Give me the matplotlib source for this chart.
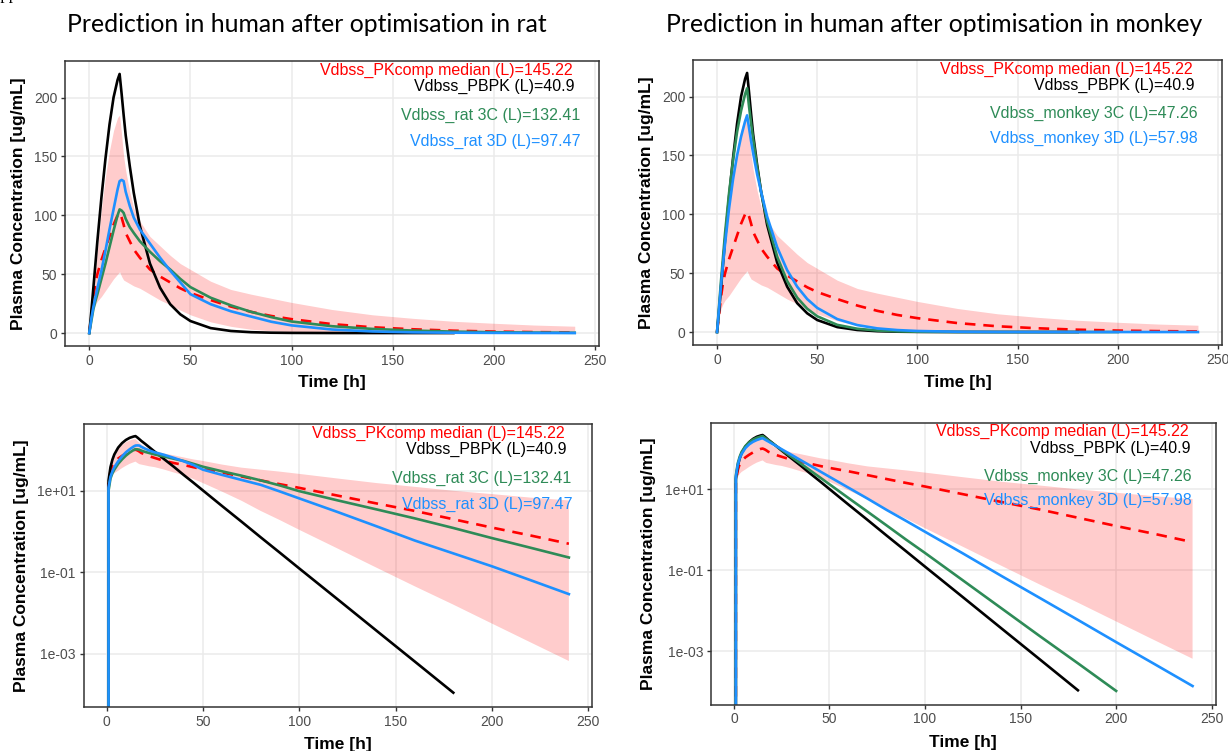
import numpy as np
import matplotlib
matplotlib.use('Agg')
import matplotlib.pyplot as plt
from matplotlib.ticker import NullLocator

nan = np.nan

# concentrations in ug/mL
time_h = [0, 1, 2, 3, 4, 6, 8, 10, 12, 14, 15, 16, 17, 18, 20, 22, 25, 30, 35, 40,
          45, 50, 60, 70, 80, 90, 100, 120, 140, 160, 180, 200, 220, 240]

pbpk = [0, 18, 38, 58, 78, 115, 148, 177, 200, 215, 220, 203, 185, 168, 142, 119, 91, 59, 38.5, 24.5,
        15.9, 10.2, 4.2, 1.75, 0.72, 0.30, 0.124, 0.0215, 0.0037, 0.00064, 0.00011, nan, nan, nan]

pkcomp_median = [0, 15, 30, 42, 50, 62, 72, 82, 92, 100, 102, 98, 92, 85, 78, 71, 64, 54, 48, 43,
                 38, 34, 28, 22.5, 18, 14.5, 11.8, 7.6, 4.9, 3.2, 2.0, 1.25, 0.8, 0.5]
pkcomp_lo = [0, 12, 20, 24, 27, 31, 36, 41, 46, 50, 52, 48, 45, 44, 42, 40, 38, 33, 28, 24,
             19.5, 15.5, 9.5, 5.7, 3.2, 1.9, 1.1, 0.38, 0.13, 0.045, 0.016, 0.0055, 0.0019, 0.00066]
pkcomp_hi = [0, 20, 38, 52, 70, 105, 133, 155, 172, 183, 185, 168, 150, 138, 120, 106, 95, 82, 74, 66,
             59, 54, 44, 37, 33, 29.5, 26, 20, 15.5, 12.5, 10, 8.3, 6.8, 5.8]

rat_3c = [0, 10, 20, 27, 33, 46, 59, 73, 87, 100, 105, 104, 102, 97, 90, 85, 78, 69, 61, 54,
          46, 39, 30, 23.5, 18, 13.5, 9.8, 5.8, 3.5, 2.1, 1.22, 0.69, 0.40, 0.23]
rat_3d = [0, 12, 22, 30, 38, 53, 70, 88, 105, 122, 129, 130, 129, 120, 108, 98, 88, 76, 64, 53,
          43, 33, 24.5, 18.5, 14, 9.6, 6.5, 3.0, 1.35, 0.6, 0.29, 0.14, 0.064, 0.029]

monkey_3c = [0, 22, 44, 64, 84, 118, 146, 170, 188, 202, 207, 191, 177, 164, 140, 119, 94, 64, 43.3, 29.2,
             19.8, 13.4, 6.1, 2.8, 1.28, 0.58, 0.27, 0.056, 0.0116, 0.0024, 0.00051, 0.000106, nan, nan]
monkey_3d = [0, 20, 40, 58, 75, 105, 130, 150, 166, 179, 184, 173, 162, 152, 134, 119, 98, 72, 52.5, 38.5,
             28, 20.5, 11, 5.9, 3.1, 1.68, 0.9, 0.26, 0.073, 0.021, 0.006, 0.0017, 0.00049, 0.00014]

titles = ['Prediction in human after optimisation in rat',
          'Prediction in human after optimisation in monkey']
labels_rat = ['Vdbss_PKcomp median (L)=145.22', 'Vdbss_PBPK (L)=40.9',
              'Vdbss_rat 3C (L)=132.41', 'Vdbss_rat 3D (L)=97.47']
labels_monkey = ['Vdbss_PKcomp median (L)=145.22', 'Vdbss_PBPK (L)=40.9',
                 'Vdbss_monkey 3C (L)=47.26', 'Vdbss_monkey 3D (L)=57.98']

x_ticks = [0, 50, 100, 150, 200, 250]
lin_y_ticks = [0, 50, 100, 150, 200]
log_y_ticks = [1e1, 1e-1, 1e-3]
log_y_labels = ['1e+01', '1e-01', '1e-03']

RED, BLACK, GREEN, BLUE = '#FF0000', '#000000', '#2E8B57', '#1E90FF'
label_colors = [RED, BLACK, GREEN, BLUE]

plt.rcParams['font.family'] = ['Liberation Sans', 'DejaVu Sans']

W, H = 1228, 751
fig = plt.figure(figsize=(W / 100, H / 100), dpi=100)


def px_axes(left, top, right, bottom):
    return fig.add_axes([left / W, 1 - bottom / H, (right - left) / W, (bottom - top) / H])


def ftext(x, y, s, **kw):
    return fig.text(x / W, 1 - y / H, s, **kw)


def draw_panel(ax, c3, c3d, labels, label_pos, log):
    t = np.array(time_h)
    ax.fill_between(t, pkcomp_lo, pkcomp_hi, color=RED, alpha=0.2, lw=0)
    ax.plot(t, pkcomp_median, color=RED, lw=1.9, ls=(0, (4, 3)))
    ax.plot(t, pbpk, color=BLACK, lw=1.9)
    ax.plot(t, c3, color=GREEN, lw=1.9)
    ax.plot(t, c3d, color=BLUE, lw=1.9)

    ax.set_xlim(-12, 252)
    ax.set_xticks(x_ticks)
    if log:
        ax.set_yscale('log', nonpositive='clip')
        ax.set_ylim(10 ** -4.31, 10 ** 2.64)
        ax.set_yticks(log_y_ticks)
        ax.set_yticklabels(log_y_labels)
        ax.yaxis.set_minor_locator(NullLocator())
    else:
        ax.set_ylim(-11, 231)
        ax.set_yticks(lin_y_ticks)

    for s in ax.spines.values():
        s.set_color('#333333')
        s.set_linewidth(1.1)
    ax.tick_params(length=3, width=1.0, color='#333333', labelsize=10,
                   labelcolor='#4D4D4D', pad=2.5)
    ax.grid(True, color='#EBEBEB', lw=1.1)
    ax.set_axisbelow(True)

    for lab, col, (x, y) in zip(labels, label_colors, label_pos):
        ax.text(x, y, lab, color=col, fontsize=11.5, ha='right', va='center')


# top row, linear
ax1 = px_axes(65, 61, 599, 346)
draw_panel(ax1, rat_3c, rat_3d, labels_rat,
           [(239.1, 223), (240.1, 209.4), (242.6, 184.7), (243.1, 162.6)], False)
ax2 = px_axes(693, 60, 1222, 345)
draw_panel(ax2, monkey_3c, monkey_3d, labels_monkey,
           [(237.5, 223.4), (238.5, 209.2), (240, 185.4), (240, 164.7)], False)

# bottom row, log
ax3 = px_axes(83.5, 424, 592, 707)
draw_panel(ax3, rat_3c, rat_3d, labels_rat,
           [(237.8, 251), (238.7, 102), (241.2, 20.5), (242.1, 4.7)], True)
ax4 = px_axes(711, 423, 1215.5, 704.5)
draw_panel(ax4, monkey_3c, monkey_3d, labels_monkey,
           [(237.8, 273), (238.7, 105), (239.5, 21), (239.5, 5.4)], True)

ylab = 'Plasma Concentration [ug/mL]'
for x, y in [(19, 203.5), (646, 202.5), (21.5, 565.5), (648, 564)]:
    ftext(x, y, ylab, rotation=90, ha='center', va='center', fontsize=12.5, fontweight='bold')
for x, y in [(332, 387.5), (957.5, 387.5), (338, 749), (963, 747.5)]:
    ftext(x, y, 'Time [h]', ha='center', va='baseline', fontsize=12.5, fontweight='bold')

# titles, sized to the reference width
t1 = ftext(307, 32, titles[0], ha='center', va='baseline', family=['Lato', 'DejaVu Sans'], fontsize=18)
t2 = ftext(934, 32, titles[1], ha='center', va='baseline', family=['Lato', 'DejaVu Sans'], fontsize=18)
fig.canvas.draw()
w = t1.get_window_extent().width
t1.set_fontsize(18 * 478 / w)
t2.set_fontsize(18 * 478 / w)

# tail of a word cut off at the top edge of the page
ftext(-7, -1, 'approach', ha='left', va='baseline', family=['Liberation Serif'], fontsize=12)

fig.savefig('out.png', dpi=100)
